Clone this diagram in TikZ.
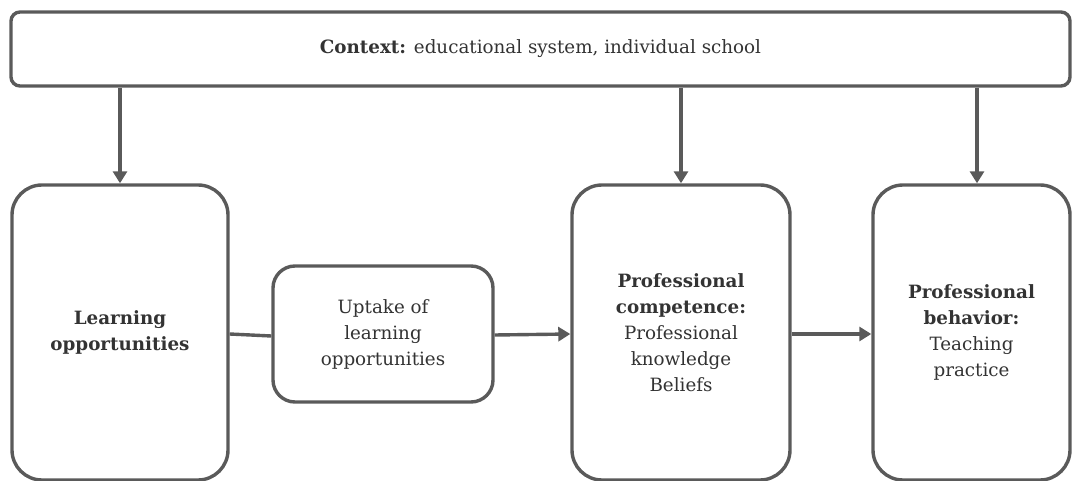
\documentclass[tikz,border=0pt]{standalone}
\usepackage{fontspec}
\setmainfont{DejaVu Serif}
\usetikzlibrary{arrows.meta,calc}
\definecolor{lineg}{HTML}{5A5A5A}
\definecolor{txtg}{HTML}{333333}
\tikzset{
  box/.style={draw=lineg, line width=3.4pt, fill=white, align=center, text=txtg,
    font=\fontsize{18.3}{26}\selectfont, inner sep=0pt},
  arr/.style={draw=lineg, line width=3.4pt, -{Triangle[length=12pt,width=14pt]}},
  link/.style={draw=lineg, line width=3.4pt},
}
\begin{document}
\begin{tikzpicture}[x=1pt,y=-1pt]
\useasboundingbox (0,0) rectangle (1072,481);
\node[box, rounded corners=9pt, minimum width=1059pt, minimum height=74pt] (ctx) at (540.5,49) {\textbf{Context:} educational system, individual school};
\node[box, rounded corners=30pt, minimum width=216pt, minimum height=295pt] (learn) at (120,332.5) {\textbf{Learning}\\\textbf{opportunities}};
\node[box, rounded corners=22pt, minimum width=220pt, minimum height=136pt] (uptake) at (383,334) {Uptake of\\learning\\opportunities};
\node[box, rounded corners=30pt, minimum width=218pt, minimum height=295pt] (comp) at (681,332.5) {\textbf{Professional}\\\textbf{competence:}\\Professional\\knowledge\\Beliefs};
\node[box, rounded corners=30pt, minimum width=197pt, minimum height=295pt] (behav) at (971.5,332.5) {\textbf{Professional}\\\textbf{behavior:}\\Teaching\\practice};
\draw[arr] (ctx.south -| learn.north) -- (learn.north);
\draw[arr] (ctx.south -| comp.north) -- (comp.north);
\draw[arr] ($(ctx.south -| behav.north)+(5.5,0)$) -- ($(behav.north)+(5.5,0)$);
\draw[link] ($(learn.east)+(0,1.5)$) -- ($(uptake.west)+(0,2)$);
\draw[arr] ($(uptake.east)+(0,1)$) -- ($(comp.west)+(0,1.5)$);
\draw[arr] ($(comp.east)+(0,1.5)$) -- ($(behav.west)+(0,1.5)$);
\end{tikzpicture}
\end{document}
